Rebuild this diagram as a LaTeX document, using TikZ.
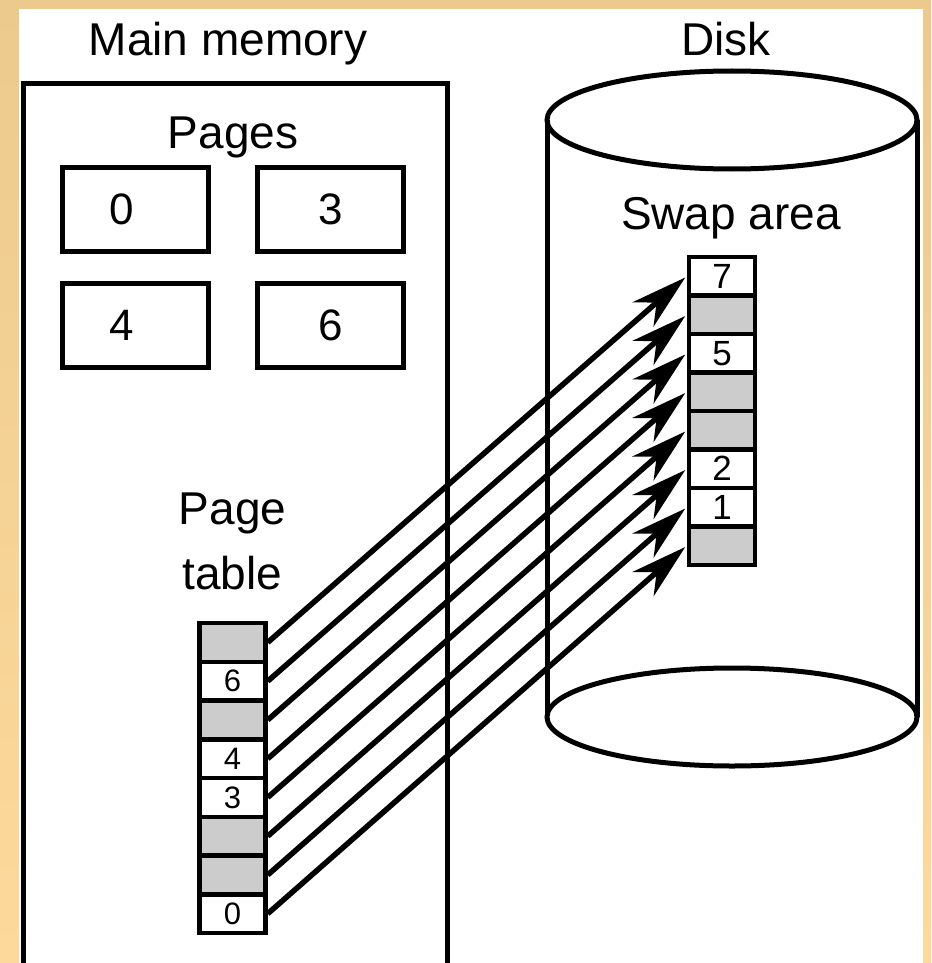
\documentclass[tikz,border=0pt]{standalone}
\usepackage{fontspec}
\setmainfont{Liberation Sans}
\usepackage{xcolor}
\usetikzlibrary{positioning, arrows.meta, calc}
\definecolor{slidetan}{HTML}{ECC98D}
\definecolor{slidesand}{HTML}{FDDA9C}
\definecolor{cellgray}{HTML}{CCCCCC}

\tikzset{
  boxline/.style={draw, line width=5pt},
  heading/.style={font=\fontsize{46}{65}\selectfont, inner sep=0pt},
  pagebox/.style={boxline, minimum width=146pt, minimum height=84pt, inner sep=0pt},
  pagenum/.style={font=\fontsize{44}{44}\selectfont, inner sep=0pt},
  cell/.style={boxline, line width=4.5pt, minimum width=66pt, minimum height=38.75pt, inner sep=0pt},
  usedcell/.style={cell, fill=white},
  freecell/.style={cell, fill=cellgray},
  swapline/.style={line width=5.5pt, -{Stealth[length=56pt, width=32pt, inset=18pt]}, shorten >=2pt},
}

\begin{document}
\begin{tikzpicture}[x=1pt, y=-1pt]
  \useasboundingbox (0,0) rectangle (931,963);
  \clip (0,0) rectangle (931,963);
  % slide background
  \shade[top color=slidetan, bottom color=slidesand] (0,0) rectangle (931,963);
  \fill[white] (19,9) rectangle (923,963);

  % main memory
  \node[heading, anchor=base] (memtitle) at (228,56) {Main memory};
  \draw[boxline] (23,975) |- (447,84) -- (447,975);

  \node[pagebox] (pg0) at (135.5,209.5) {};
  \node[pagebox, right=44pt of pg0] (pg3) {};
  \node[pagebox, below=27pt of pg0] (pg4) {};
  \node[pagebox, below=27pt of pg3] (pg6) {};
  \node[pagenum] at ([xshift=-14pt]pg0.center) {0};
  \node[pagenum] at (pg3.center) {3};
  \node[pagenum] at ([xshift=-14pt]pg4.center) {4};
  \node[pagenum] at (pg6.center) {6};
  \coordinate (pagestop) at ($(pg0.north)!0.5!(pg3.north)$);
  \node[heading, above=7pt of pagestop] (pageslabel) {Pages};

  % page table
  \foreach \lab/\sty [count=\i from 0] in {/freecell, 6/usedcell, /freecell, 4/usedcell,
                                           3/usedcell, /freecell, /freecell, 0/usedcell}
    \node[\sty, font=\fontsize{31}{31}\selectfont] (pt\i) at (232.5, {642.4+38.75*\i}) {\lab};
  \node[heading, align=center, above=31pt of pt0] (ptlabel) {Page\\table};

  % disk
  \node[heading, anchor=base] (disktitle) at (726,56) {Disk};
  \draw[boxline] (547,120) -- (547,717) (917,120) -- (917,717);
  \draw[boxline] (732,120) ellipse [x radius=185, y radius=49];
  \draw[boxline, fill=white] (732,717) ellipse [x radius=185, y radius=49];

  % swap area
  \foreach \lab/\sty [count=\i from 0] in {7/usedcell, /freecell, 5/usedcell, /freecell,
                                           /freecell, 2/usedcell, 1/usedcell, /freecell}
    \node[\sty, font=\fontsize{35}{35}\selectfont] (sw\i) at (722, {276.2+38.5*\i}) {\lab};
  \node[heading, above=15pt of sw0, xshift=9pt] (swaplabel) {Swap area};

  % page table entries to swap slots
  \foreach \i in {0,...,7}
    \draw[swapline] (pt\i.east) -- (sw\i.west);
\end{tikzpicture}
\end{document}
